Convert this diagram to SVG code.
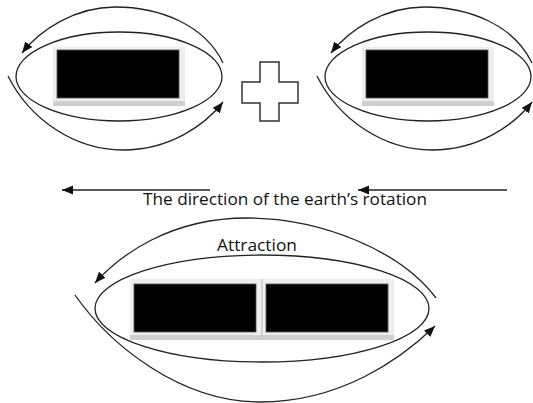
<svg xmlns="http://www.w3.org/2000/svg" width="533" height="403" viewBox="0 0 533 403">
<style>
.ell{fill:none;stroke:#222;stroke-width:1.3}
.arc{fill:none;stroke:#222;stroke-width:1.3;marker-end:url(#ah)}
.frame{fill:#eeeeee}
.band{fill:#cfcfcf}
.blk{fill:#000;stroke:#555;stroke-width:0.8}
.txt{font-family:"Open Sans","Liberation Sans",sans-serif;font-size:16px;fill:#111}
</style>
<defs>
<marker id="ah" markerUnits="userSpaceOnUse" markerWidth="12" markerHeight="10" refX="11" refY="4.5" orient="auto">
<path d="M0,0 L11,4.5 L0,9 z" fill="#111"/>
</marker>
</defs>
<rect width="533" height="403" fill="#fff"/>

<g id="unit-left">
<ellipse class="ell" cx="119" cy="76.5" rx="103" ry="44.5"/>
<rect class="frame" x="53" y="47" width="132" height="59"/>
<rect class="band" x="53" y="101" width="132" height="5"/>
<rect class="blk" x="57" y="50" width="122" height="48"/>
</g>

<g id="unit-right" transform="translate(309,0)">
<ellipse class="ell" cx="119" cy="76.5" rx="103" ry="44.5"/>
<rect class="frame" x="53" y="47" width="132" height="59"/>
<rect class="band" x="53" y="101" width="132" height="5"/>
<rect class="blk" x="57" y="50" width="122" height="48"/>
</g>

<g id="plus">
<polygon points="260,62 279,62 279,82 298,82 298,103 279,103 279,121 260,121 260,103 242,103 242,82 260,82" fill="#fff" stroke="#333" stroke-width="1.5"/>
</g>

<g id="unit-bottom">
<ellipse class="ell" cx="262" cy="308.5" rx="167" ry="53.5"/>
<rect class="frame" x="130" y="279" width="264" height="61"/>
<rect class="band" x="130" y="335" width="264" height="5"/>
<line x1="262" y1="279" x2="262" y2="340" stroke="#c8c8c8" stroke-width="1.5"/>
<rect class="blk" x="134" y="284" width="122" height="48"/>
<rect class="blk" x="266" y="284" width="122" height="48"/>
</g>

<g id="labels">
<text class="txt" x="143" y="205" textLength="284" lengthAdjust="spacingAndGlyphs">The direction of the earth’s rotation</text>
<text class="txt" x="217" y="251" textLength="80" lengthAdjust="spacingAndGlyphs">Attraction</text>
</g>

<g id="connectors">
<path class="arc" d="M223,63 C205,25 160,7 115,7 C75,7 40,30 22,53"/>
<path class="arc" d="M8,76 C30,120 75,150 123,150 C170,150 205,125 223,102"/>
<g transform="translate(309,0)">
<path class="arc" d="M223,63 C205,25 160,7 115,7 C75,7 40,30 22,53"/>
<path class="arc" d="M8,76 C30,120 75,150 123,150 C170,150 205,125 223,102"/>
</g>
<path class="arc" d="M436,298 C400,250 320,218 247,218 C170,218 120,255 95,283"/>
<path class="arc" d="M75,295 C110,345 180,402 260,402 C340,402 400,360 435,326"/>
<line class="arc" x1="210" y1="190" x2="62" y2="190"/>
<line class="arc" x1="507" y1="190" x2="358" y2="190"/>
</g>
</svg>
